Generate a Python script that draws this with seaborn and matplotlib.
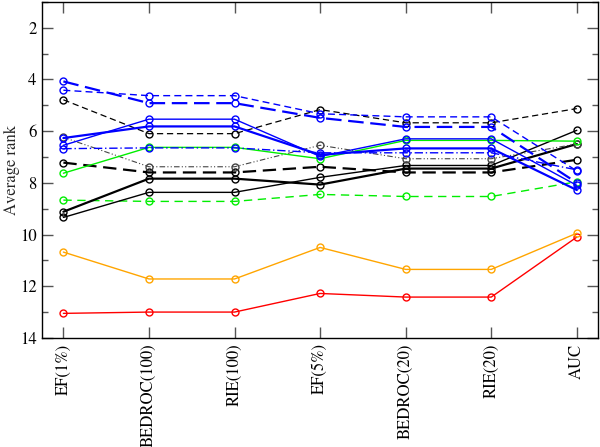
import matplotlib
matplotlib.use("Agg")
import matplotlib.pyplot as plt
import seaborn as sns
import pandas as pd
from matplotlib.ticker import MultipleLocator

sns.set_style("ticks")
plt.rcParams['font.family'] = ['STIXGeneral', 'DejaVu Serif']

categories = ["EF(1%)", "BEDROC(100)", "RIE(100)", "EF(5%)", "BEDROC(20)", "RIE(20)", "AUC"]

blue_thick_dash = [4.08, 4.92, 4.92, 5.49, 5.84, 5.84, 8.00]
blue_thin_dash = [4.42, 4.63, 4.63, 5.33, 5.45, 5.45, 7.54]
blue_thin_solid = [6.55, 5.54, 5.54, 6.98, 6.30, 6.30, 8.10]
blue_thick_solid = [6.27, 5.82, 5.82, 6.92, 6.67, 6.67, 8.28]
blue_dashdot = [6.68, 6.65, 6.65, 6.84, 6.84, 6.84, 7.50]
black_thin_dash = [4.79, 6.10, 6.10, 5.17, 5.68, 5.68, 5.13]
black_dashdotdot = [6.24, 7.38, 7.38, 6.55, 7.07, 7.07, 6.50]
black_thick_dash = [7.22, 7.60, 7.60, 7.38, 7.60, 7.60, 7.11]
black_thick_solid = [9.12, 7.84, 7.84, 8.07, 7.45, 7.45, 6.50]
black_thin_solid = [9.34, 8.37, 8.37, 7.79, 7.33, 7.33, 5.97]
green_solid = [7.63, 6.63, 6.63, 7.07, 6.36, 6.36, 6.39]
green_dash = [8.67, 8.72, 8.72, 8.45, 8.53, 8.53, 7.96]
orange_solid = [10.68, 11.72, 11.72, 10.50, 11.35, 11.35, 9.95]
red_solid = [13.05, 13.00, 13.00, 12.28, 12.42, 12.42, 10.10]

BLUE = "#0000ff"
GREEN = "#00ee00"
ORANGE = "#ffa500"
RED = "#ff0000"
BLACK = "#000000"

series = [
    (red_solid, RED, "-", 1.0),
    (orange_solid, ORANGE, "-", 1.0),
    (green_dash, GREEN, (0, (6, 4)), 1.0),
    (black_thin_solid, BLACK, "-", 1.0),
    (black_thick_solid, BLACK, "-", 1.6),
    (black_thick_dash, BLACK, (0, (6, 3)), 1.6),
    (black_dashdotdot, "#444444", (0, (5, 2, 1, 2, 1, 2)), 0.8),
    (black_thin_dash, BLACK, (0, (5, 3)), 0.9),
    (green_solid, GREEN, "-", 1.0),
    (blue_dashdot, BLUE, (0, (6, 2, 1, 2)), 1.0),
    (blue_thick_solid, BLUE, "-", 1.6),
    (blue_thin_solid, BLUE, "-", 1.0),
    (blue_thin_dash, BLUE, (0, (5, 3)), 1.0),
    (blue_thick_dash, BLUE, (0, (7, 3)), 1.6),
]

fig, ax = plt.subplots(figsize=(6.0, 4.47), dpi=100)
fig.subplots_adjust(left=0.07, right=0.997, top=0.996, bottom=0.244)

for vals, col, ls, lw in series:
    df = pd.DataFrame({"metric": categories, "rank": vals})
    sns.lineplot(data=df, x="metric", y="rank", sort=False, errorbar=None,
                 color=col, linestyle=ls, linewidth=lw, marker="o",
                 markersize=5, markerfacecolor="none", markeredgecolor=col,
                 markeredgewidth=1.0, ax=ax)

ax.set_xlim(-0.25, len(categories) - 0.75)
ax.set_ylim(14, 1)
ax.yaxis.set_major_locator(MultipleLocator(2))
ax.yaxis.set_minor_locator(MultipleLocator(1))
ax.set_yticks([2, 4, 6, 8, 10, 12, 14])
ax.set_xlabel("")
ax.set_ylabel("Average rank", fontsize=12)
ax.yaxis.set_label_coords(-0.039, 0.5)
ax.tick_params(axis="both", which="both", direction="in", top=True, right=True,
               colors="#555555", labelcolor="black", labelsize=12)
ax.tick_params(axis="both", which="major", length=8, width=1, pad=4)
ax.tick_params(axis="both", which="minor", length=4, width=1)
plt.setp(ax.get_xticklabels(), rotation=90)
for s in ax.spines.values():
    s.set_color("black")
    s.set_linewidth(1.0)

fig.savefig("out.png", dpi=100)
